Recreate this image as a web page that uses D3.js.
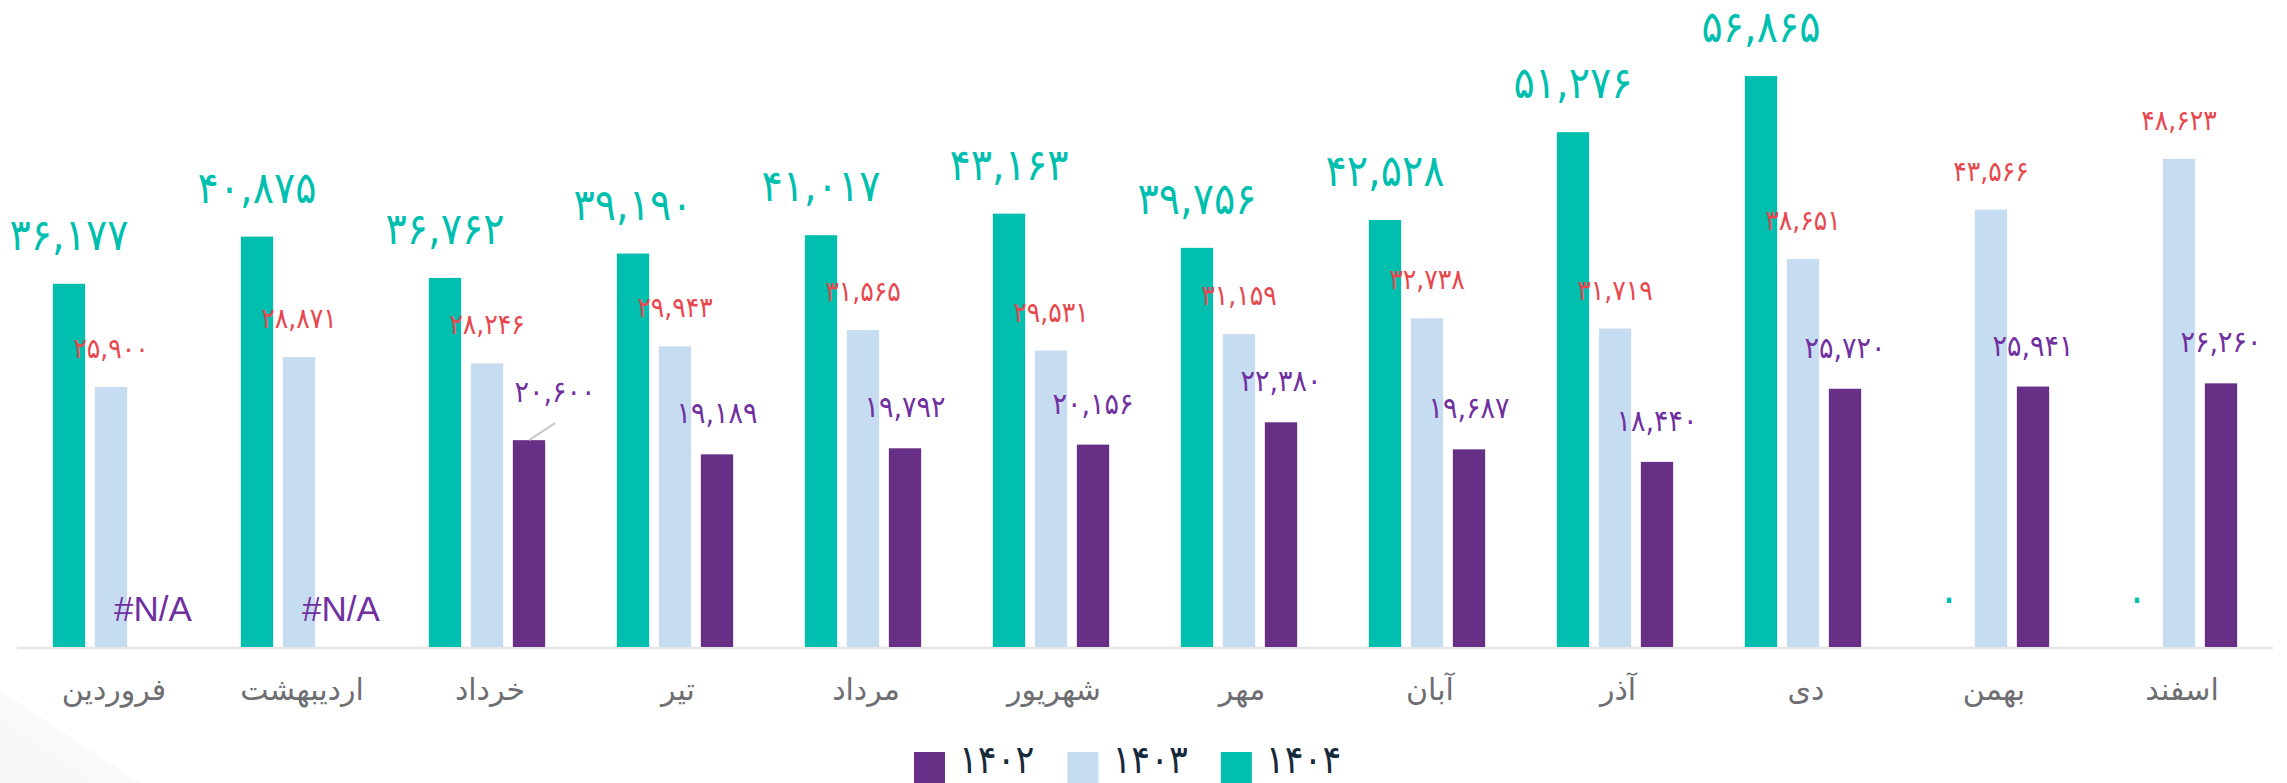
<!DOCTYPE html>
<html><head><meta charset="utf-8">
<script src="https://cdn.jsdelivr.net/npm/d3@7"></script>
<style>html,body{margin:0;padding:0;background:#fff;} svg{display:block}</style>
</head><body><svg id="chart" width="2287" height="783"></svg>
<script>
// ---------- data ----------
const months = ["فروردین","اردیبهشت","خرداد","تیر","مرداد","شهریور","مهر","آبان","آذر","دی","بهمن","اسفند"];
const seriesKeys = ["1404","1403","1402"];
const seriesNames = {"1404":"۱۴۰۴","1403":"۱۴۰۳","1402":"۱۴۰۲"};
const values1404 = [36177,40875,36762,39190,41017,43163,39756,42528,51276,56865,0,0];
const values1403 = [25900,28871,28246,29943,31565,29531,31159,32738,31719,38651,43566,48623];
const values1402 = [null,null,20600,19189,19792,20156,22380,19687,18440,25720,25941,26260];
const legendOrder = ["1402","1403","1404"];
const naLabel = "#N/A";

// ---------- styles ----------
const colors = {"1404":"#00bfae","1403":"#c6dcf0","1402":"#673086"};
const labelColors = {"1404":"#00bfae","1403":"#e8474e","1402":"#7030a0"};
const labelSizes = {"1404":44,"1403":28,"1402":30};
const labelGaps = {"1404":34,"1403":29,"1402":31};
const faFont = "'DejaVu Sans Condensed','DejaVu Sans',sans-serif";

const toFa = s => String(s).replace(/[0-9]/g, d => "۰۱۲۳۴۵۶۷۸۹"[+d]);
const fmt = v => toFa(d3.format(",")(v));

const svg = d3.select("#chart");

// faint watermark bottom-left
const grad = svg.append("defs").append("linearGradient").attr("id","wm")
  .attr("x1","0").attr("y1","1").attr("x2","1").attr("y2","0");
grad.append("stop").attr("offset","0").attr("stop-color","#f5f5f5");
grad.append("stop").attr("offset","1").attr("stop-color","#ffffff");
svg.append("path").attr("d","M0,690 L140,783 L0,783 Z").attr("fill","url(#wm)");

const baseY = 647;
const x0 = d3.scaleBand().domain(months).range([17, 2273]).padding(0);
const groupW = 116.3;
const x1 = d3.scaleBand().domain(seriesKeys).range([0, groupW]).paddingInner(0.231).paddingOuter(0);
const y = d3.scaleLinear().domain([0, 60000]).range([baseY, 44.6]);
const gx = m => x0(m) + (x0.bandwidth() - groupW) / 2;

const rows = months.map((m, i) => ({
  month: m,
  vals: {"1404": values1404[i], "1403": values1403[i], "1402": values1402[i]}
}));

// axis line
svg.append("line").attr("x1", x0.range()[0]).attr("x2", x0.range()[1])
  .attr("y1", baseY + 1).attr("y2", baseY + 1)
  .attr("stroke", "#e6e6e6").attr("stroke-width", 2.5);

// bars
const groups = svg.append("g").selectAll("g").data(rows).join("g")
  .attr("transform", d => `translate(${gx(d.month)},0)`);

groups.selectAll("rect").data(d => seriesKeys.filter(k => d.vals[k] != null && d.vals[k] > 0).map(k => ({k, v: d.vals[k]})))
  .join("rect")
  .attr("x", d => x1(d.k)).attr("width", x1.bandwidth())
  .attr("y", d => y(d.v)).attr("height", d => baseY - y(d.v))
  .attr("fill", d => colors[d.k]);

// value labels
groups.each(function(d) {
  const g = d3.select(this);
  seriesKeys.forEach(k => {
    const v = d.vals[k];
    const cx = x1(k) + x1.bandwidth() / 2;
    if (v == null) {
      g.append("text").attr("x", cx).attr("y", 621)
        .attr("text-anchor", "middle").attr("font-family", "'Liberation Sans',Arial,sans-serif")
        .attr("font-size", 35).attr("fill", labelColors[k]).text(naLabel);
      return;
    }
    const top = y(v);
    let lx = cx, ly = top - labelGaps[k];
    if (k === "1402" && v === 20600) {
      // label moved off the bar with a leader line
      lx = cx + 26; ly = top - 38;
      g.append("line").attr("x1", cx).attr("y1", top).attr("x2", cx + 26).attr("y2", top - 17)
        .attr("stroke", "#c9c9c9").attr("stroke-width", 2);
    }
    g.append("text").attr("x", lx).attr("y", ly)
      .attr("text-anchor", "middle").attr("font-family", faFont)
      .attr("font-size", labelSizes[k]).attr("fill", labelColors[k]).text(fmt(v));
  });
});

// month labels
svg.append("g").selectAll("text").data(months).join("text")
  .attr("x", d => x0(d) + x0.bandwidth() / 2 + 3).attr("y", 700)
  .attr("text-anchor", "middle").attr("font-family", "'DejaVu Sans',sans-serif")
  .attr("font-size", 30).attr("fill", "#6e6e72").text(d => d);

// legend
const lg = svg.append("g");
let lx = 914;
legendOrder.forEach(k => {
  lg.append("rect").attr("x", lx).attr("y", 752).attr("width", 31).attr("height", 31).attr("fill", colors[k]);
  const t = lg.append("text").attr("x", lx + 45).attr("y", 773)
    .attr("font-family", faFont).attr("font-size", 39).attr("fill", "#162a3b").text(seriesNames[k]);
  lx = lx + 45 + t.node().getComputedTextLength() + 33;
});
</script></body></html>
